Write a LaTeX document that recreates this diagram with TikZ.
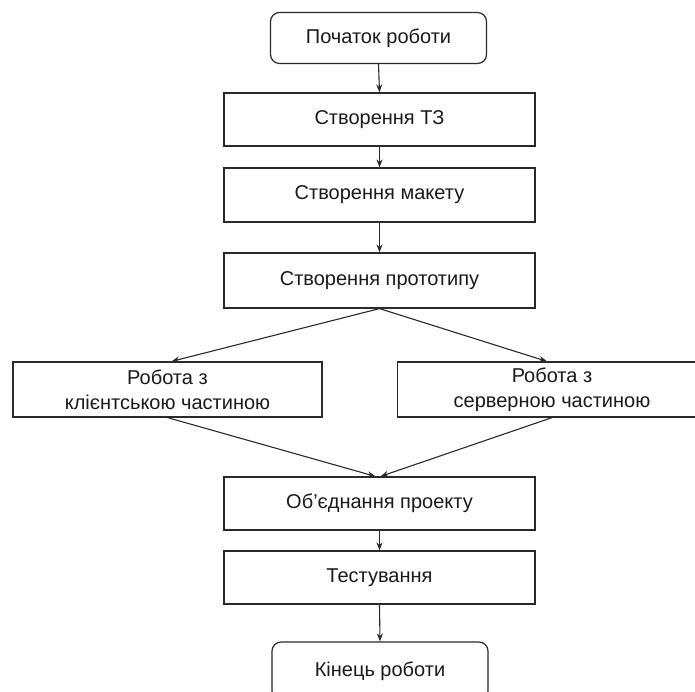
\documentclass[tikz,border=0pt]{standalone}
\usepackage{fontspec}
\setmainfont{Liberation Sans}
\usetikzlibrary{arrows.meta,calc}
\definecolor{linec}{HTML}{2A2A2A}
\definecolor{textc}{HTML}{1A1A1A}
\tikzset{
  boxnode/.style={draw=linec, line width=1.2pt, rectangle, minimum width=311pt, minimum height=53pt, inner sep=0pt, align=center, text=textc, font=\fontsize{20}{25}\selectfont},
  termnode/.style={boxnode, rounded corners=9pt, minimum width=216pt, minimum height=51pt},
  flow/.style={draw=linec, line width=1.1pt, -{Stealth[length=8pt,width=6pt]}}
}
\begin{document}
\begin{tikzpicture}[x=1pt,y=-1pt]
\useasboundingbox (0,0) rectangle (695,691);
\fill[white] (0,0) rectangle (695,691);
\clip (0,0) rectangle (695,691);
\node[termnode] (start) at (378.5,38) {Початок роботи};
\node[boxnode] (tz) at (379.5,119.5) {Створення ТЗ};
\node[boxnode, minimum height=54pt] (maket) at (379.5,195) {Створення макету};
\node[boxnode, minimum height=55pt] (proto) at (379.5,280.5) {Створення прототипу};
\node[boxnode, minimum width=309pt, minimum height=55pt] (left) at (167.5,389.5) {Робота з\\клієнтською частиною};
\node[boxnode, minimum width=309pt, minimum height=55pt] (right) at (552,389.5) {Робота з\\серверною частиною};
\node[boxnode] (merge) at (379.5,503.5) {Об’єднання проекту};
\node[boxnode] (test) at (379.5,577.5) {Тестування};
\node[termnode, minimum height=58pt] (end) at (380,671) {\raisebox{2pt}{Кінець роботи}};
\draw[flow] (start.south) -- (tz.north);
\draw[flow] (tz.south) -- (maket.north);
\draw[flow] (maket.south) -- (proto.north);
\draw[flow] (proto.south) -- ($(left.north)+(4,0)$);
\draw[flow] (proto.south) -- ($(right.north)+(-5,0)$);
\draw[flow] (left.south) -- ($(merge.north)+(-4,0)$);
\draw[flow] (right.south) -- ($(merge.north)+(1,0)$);
\draw[flow] (merge.south) -- (test.north);
\draw[flow] (test.south) -- (end.north);
\end{tikzpicture}
\end{document}
